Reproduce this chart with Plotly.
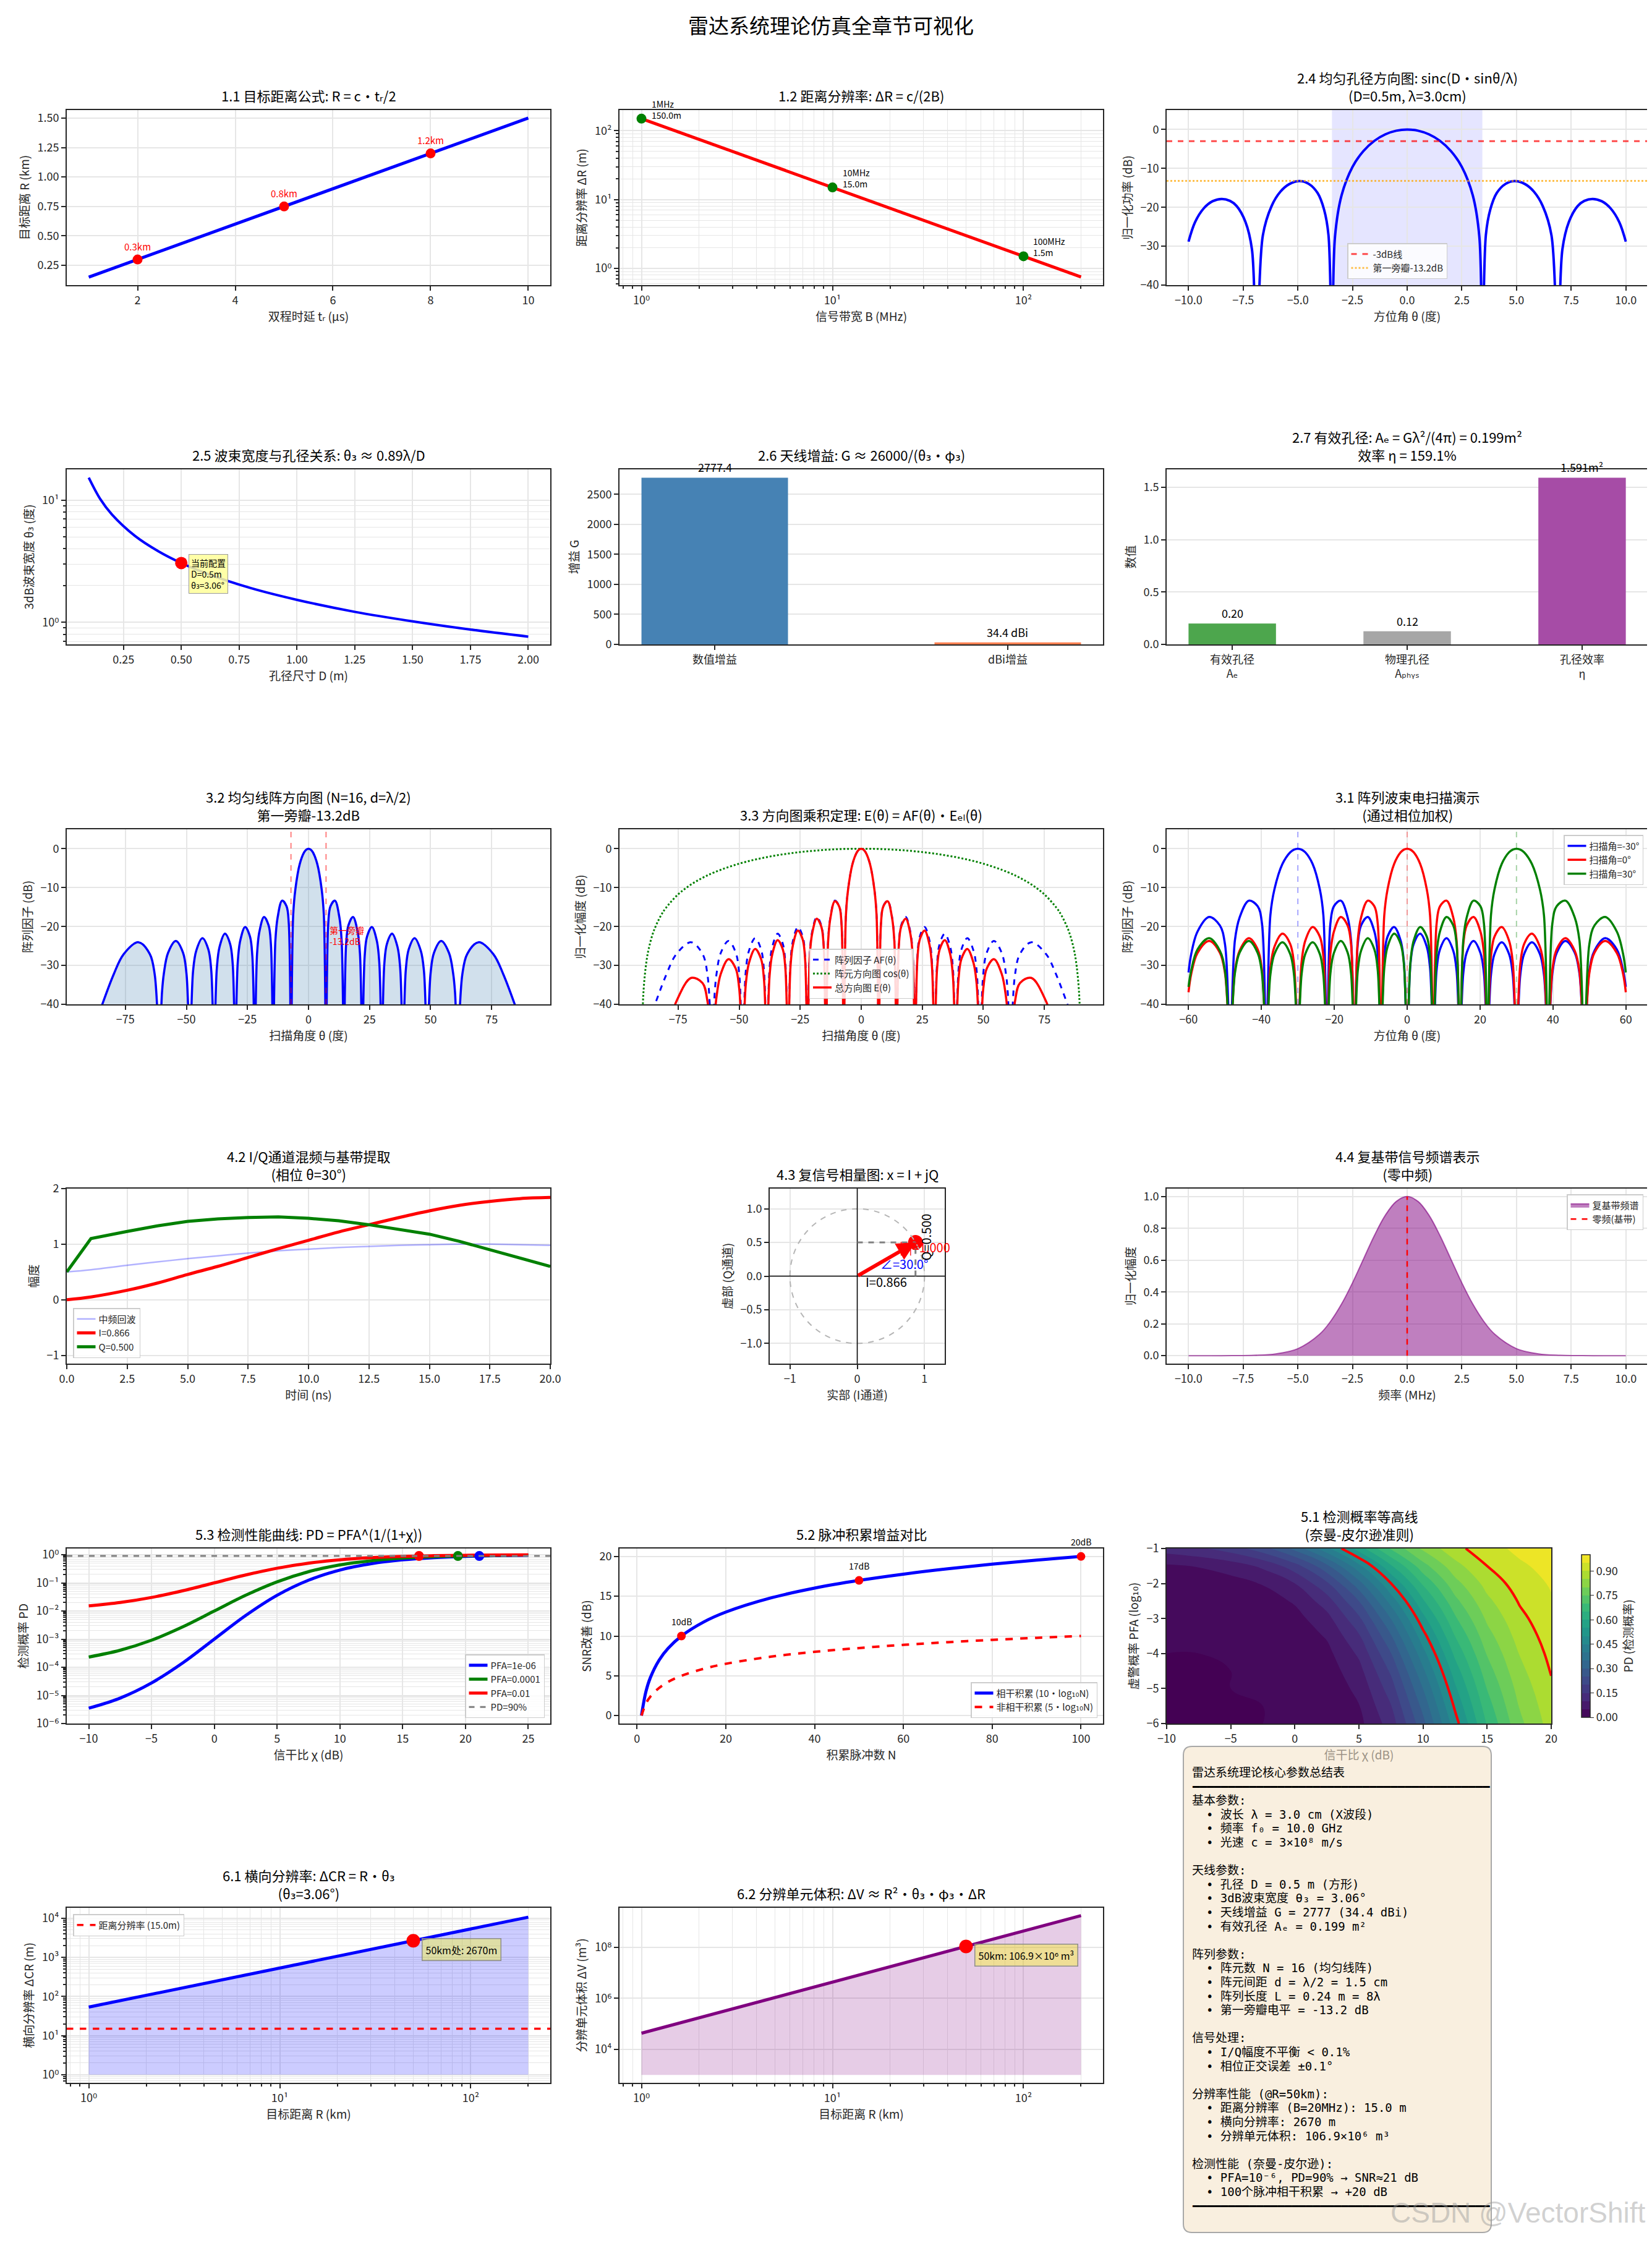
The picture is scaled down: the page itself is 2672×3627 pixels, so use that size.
import math
import plotly.graph_objects as go

W, H = 2672, 3627
CJK = "Noto Sans CJK SC, DejaVu Sans, sans-serif"
MONO = "DejaVu Sans Mono, Noto Sans CJK SC, monospace"
INK = "#262626"
GRID = "#e6e6e6"

# ---------------- 数据 ----------------
# 1.1 目标距离
delay_us = [1, 10]
target_range_km = [0.15, 1.5]
mark_delay_us = [2, 5, 8]
mark_range_km = [0.3, 0.75, 1.2]
mark_range_txt = ["0.3km", "0.8km", "1.2km"]

# 1.2 距离分辨率
bandwidth_mhz = [1, 200]
range_res_m = [150.0, 0.75]
mark_bw_mhz = [1, 10, 100]
mark_res_m = [150.0, 15.0, 1.5]
mark_res_txt = ["1MHz<br>150.0m", "10MHz<br>15.0m", "100MHz<br>1.5m"]

# 2.4 均匀孔径方向图 (正半轴, 左右对称)
sinc_theta_half = [0, 0.5, 1.0, 1.5, 2.0, 2.5, 3.0, 3.3, 3.44, 3.6, 3.8, 4.1, 4.5, 4.92,
                   5.4, 5.8, 6.2, 6.6, 6.89, 7.1, 7.4, 7.8, 8.1, 8.48, 8.9, 9.3, 9.7, 10.0]
sinc_db_half = [0, -0.31, -1.24, -2.91, -5.53, -9.60, -16.91, -27.5, -60, -27.1, -20.6, -16.3,
                -13.98, -13.26, -14.06, -16.0, -19.66, -27.2, -60, -30.8, -23.7, -19.66, -18.36,
                -17.84, -18.44, -20.25, -23.8, -28.84]
mainlobe_edge_deg = 3.44
ref_levels_db = [-3.0, -13.2]

# 2.5 波束宽度
aperture_m = [0.1, 0.15, 0.2, 0.3, 0.4, 0.5, 0.6, 0.8, 1.0, 1.25, 1.5, 1.75, 2.0]
beamwidth_deg = [15.30, 10.20, 7.65, 5.10, 3.83, 3.06, 2.55, 1.91, 1.53, 1.22, 1.02, 0.874, 0.765]
cur_aperture_m = 0.5
cur_beam_deg = 3.06

# 2.6 天线增益
gain_cats = ["数值增益", "dBi增益"]
gain_vals = [2777.4, 34.4]
gain_txt = ["2777.4", "34.4 dBi"]

# 2.7 有效孔径
aper_cats = ["有效孔径<br>Aₑ", "物理孔径<br>Aₚₕᵧₛ", "孔径效率<br>η"]
aper_vals = [0.199, 0.125, 1.591]
aper_txt = ["0.20", "0.12", "1.591m²"]

# 3.x 阵列方向图 (正半轴)
theta_half = [0, 0.90, 1.79, 3.58, 5.38, 6.28,
              7.18, 8.08, 8.99, 10.81, 12.64, 13.56,
              14.48, 15.40, 16.34, 18.21, 20.11, 21.07,
              22.02, 23.00, 23.97, 25.95, 27.96, 28.98,
              30.00, 31.05, 32.10, 34.23, 36.42, 37.54,
              38.68, 39.84, 41.02, 43.44, 45.97, 47.27,
              48.59, 49.99, 51.41, 54.34, 57.54, 59.24, 60.00,
              61.04, 62.97, 65.00, 69.64, 75.64, 79.86, 90.00]
af_half = [0, -0.22, -0.91, -3.91, -10.42, -17.1,
           -50, -19.24, -14.80, -13.34, -17.64, -23.55,
           -50, -24.58, -19.71, -17.55, -21.31, -26.99,
           -50, -27.63, -22.59, -20.13, -23.64, -29.19,
           -50, -29.62, -24.48, -21.85, -25.19, -30.67,
           -50, -31.2, -25.9, -22.99, -26.2, -31.4,
           -50, -32.0, -26.7, -23.70, -26.8, -32.1, -36.9,
           -50, -32.4, -27.05, -24.04, -27.05, -32.4, -50]
total_half = [0, -0.22, -0.91, -3.93, -10.46, -17.15,
              -50, -19.33, -14.91, -13.50, -17.85, -23.79,
              -50, -24.89, -20.06, -17.99, -21.84, -27.57,
              -50, -28.33, -23.35, -21.05, -24.72, -30.35,
              -50, -30.96, -25.92, -23.50, -27.08, -32.69,
              -50, -33.5, -28.35, -25.77, -29.36, -34.77,
              -50, -35.84, -30.80, -28.39, -32.21, -37.93, -42.9,
              -50, -39.25, -34.53, -33.21, -39.16, -47.5, -60]
elem_theta_half = [0, 10, 20, 30, 40, 50, 60, 65, 70, 75, 80, 82, 85, 87, 88, 89, 89.5, 90]
elem_db_half = [0, -0.13, -0.54, -1.25, -2.32, -3.84, -6.02, -7.48, -9.32, -11.74, -15.21,
                -17.13, -21.19, -25.62, -29.14, -35.16, -41.18, -60]
# 扫描角 -30° 的方向图, θ 从 -60° 到 60°
scan_m30_db = [-31.8, -26.99, -21.31, -17.55, -19.71, -24.58,
               -50, -23.55, -17.64, -13.34, -14.80, -19.24,
               -50, -17.1, -10.42, -3.91, -0.91, -0.22,
               0, -0.22, -0.91, -3.91, -10.42, -17.1,
               -50, -19.24, -14.80, -13.34, -17.64, -23.55,
               -50, -24.58, -19.71, -17.55, -21.31, -26.99,
               -50, -27.63, -22.59, -20.13, -23.64, -29.19,
               -50, -29.62, -24.48, -21.85, -25.19, -30.67,
               -50, -31.2, -25.9, -22.99, -26.2, -31.4,
               -50, -32.0, -26.7, -23.70, -26.8, -32.1,
               -50, -32.4, -27.05, -24.04, -27.05, -32.4,
               -50, -32.4, -27.05, -24.04, -27.05, -32.4,
               -50, -32.1, -26.8, -23.70, -26.7, -32.0,
               -50, -31.4, -26.2, -22.99, -25.9, -31.2,
               -35.5]
first_null_deg = 7.18
floor_db = -40
scan_limit_deg = 60
scan_angles = [-30, 0, 30]

# 4.2 I/Q 混频
t_ns = [0, 1, 2.5, 3.75, 5, 6.25, 7.5, 8.75, 10, 11.25, 12.5, 13.75, 15, 16.25, 17.5, 18.75, 20]
if_echo = [0.50, 0.54, 0.62, 0.68, 0.74, 0.79, 0.84, 0.88, 0.91, 0.94, 0.96, 0.98, 0.99, 1.00, 1.00, 0.99, 0.98]
i_chan = [0.00, 0.05, 0.17, 0.30, 0.455, 0.60, 0.76, 0.92, 1.07, 1.22, 1.35, 1.48, 1.60, 1.70, 1.77, 1.82, 1.84]
q_chan = [0.50, 1.10, 1.23, 1.33, 1.41, 1.455, 1.48, 1.49, 1.465, 1.42, 1.35, 1.27, 1.18, 1.05, 0.90, 0.75, 0.60]

# 4.3 相量
i_val = 0.866
q_val = 0.5
unit_radius = 1.0

# 4.4 复基带频谱 (正半轴)
freq_half = [0, 0.5, 1, 1.5, 2, 2.5, 3, 3.5, 4, 5, 6, 7, 8, 9, 10]
spec_half = [1.0, 0.969, 0.8825, 0.7548, 0.6065, 0.4578, 0.3247, 0.2163, 0.1353, 0.0439,
             0.0111, 0.0022, 0.0003, 0.0, 0.0]
spec_peak = 1.0

# 5.3 检测性能
snr_db = [-10, -7.5, -5, -2.5, 0, 2.5, 5, 7.5, 10, 12.5, 15, 17.5, 20, 22.5, 25]
pd_pfa_1e6 = [3.51e-6, 8.04e-6, 2.77e-5, 1.44e-4, 1.0e-3, 6.92e-3, 0.0361, 0.124, 0.285, 0.479,
              0.655, 0.786, 0.872, 0.926, 0.957]
pd_pfa_1e4 = [2.31e-4, 4.02e-4, 9.14e-4, 2.75e-3, 0.010, 0.0363, 0.109, 0.249, 0.433, 0.612,
              0.754, 0.851, 0.913, 0.950, 0.971]
pd_pfa_1e2 = [0.0152, 0.0200, 0.0303, 0.0525, 0.100, 0.191, 0.331, 0.499, 0.658, 0.782,
              0.868, 0.923, 0.955, 0.975, 0.986]
pd_target = 0.9
snr_at_target = [21.1, 19.4, 16.3]

# 5.2 脉冲积累
pulses_n = [1, 2, 3, 5, 7, 10, 15, 20, 30, 40, 50, 60, 70, 80, 90, 100]
coh_gain_db = [0, 3.01, 4.77, 6.99, 8.45, 10.0, 11.76, 13.01, 14.77, 16.02, 16.99, 17.78, 18.45,
               19.03, 19.54, 20.0]
noncoh_gain_db = [0, 1.51, 2.39, 3.49, 4.23, 5.0, 5.88, 6.51, 7.39, 8.01, 8.49, 8.89, 9.23, 9.52,
                  9.77, 10.0]
mark_n = [10, 50, 100]
mark_gain_db = [10.0, 16.99, 20.0]
mark_gain_txt = ["10dB", "17dB", "20dB"]

# 5.1 检测概率等高线
cont_snr_db = [-10, -7.5, -5, -2.5, 0, 2.5, 5, 7.5, 10, 12.5, 15, 17.5, 20]
cont_log_pfa = [-6, -5.5, -5, -4.5, -4, -3.5, -3, -2.5, -2, -1.5, -1]
cont_pd = [
    [0.000, 0.000, 0.000, 0.000, 0.001, 0.007, 0.036, 0.124, 0.285, 0.479, 0.655, 0.786, 0.872],
    [0.000, 0.000, 0.000, 0.000, 0.002, 0.011, 0.048, 0.148, 0.316, 0.509, 0.678, 0.802, 0.882],
    [0.000, 0.000, 0.000, 0.001, 0.003, 0.016, 0.063, 0.176, 0.351, 0.541, 0.702, 0.818, 0.892],
    [0.000, 0.000, 0.000, 0.001, 0.006, 0.024, 0.083, 0.209, 0.390, 0.575, 0.728, 0.835, 0.903],
    [0.000, 0.000, 0.001, 0.003, 0.010, 0.036, 0.109, 0.249, 0.433, 0.612, 0.754, 0.851, 0.913],
    [0.001, 0.001, 0.002, 0.006, 0.018, 0.055, 0.144, 0.296, 0.481, 0.651, 0.781, 0.869, 0.923],
    [0.002, 0.003, 0.005, 0.012, 0.032, 0.083, 0.190, 0.352, 0.534, 0.692, 0.809, 0.886, 0.934],
    [0.005, 0.008, 0.013, 0.025, 0.056, 0.126, 0.251, 0.420, 0.593, 0.736, 0.838, 0.904, 0.945],
    [0.015, 0.020, 0.030, 0.053, 0.100, 0.191, 0.331, 0.499, 0.658, 0.782, 0.868, 0.923, 0.955],
    [0.043, 0.053, 0.073, 0.110, 0.178, 0.288, 0.436, 0.594, 0.731, 0.832, 0.900, 0.942, 0.966],
    [0.123, 0.142, 0.174, 0.229, 0.316, 0.437, 0.575, 0.706, 0.811, 0.884, 0.932, 0.961, 0.978],
]
pd_lines = [0.5, 0.9]

# 6.x 分辨率
dist_km = [1, 200]
cross_res_m = [53.4, 10680]
cross_floor_m = 1
range_res_15m = 15.0
dist_mark_km = 50
cross_mark_m = 2670
cell_vol_m3 = [4.28e4, 1.711e9]
vol_floor_m3 = 1e3
vol_mark_m3 = 1.069e8

# ---------------- 绘图 ----------------
SUP = str.maketrans("0123456789-", "⁰¹²³⁴⁵⁶⁷⁸⁹⁻")


def pow10(e):
    return "10" + str(e).translate(SUP)


def mirror(xs, ys):
    return [-v for v in xs[::-1]] + xs[1:], ys[::-1] + ys[1:]


COLS = [(100, 882), (994, 1776), (1879, 2657)]
ROWS = [170, 751, 1333, 1914, 2496, 3077]
PH = 283
MINOR = dict(dtick="D1", showgrid=True, gridcolor=GRID, gridwidth=1.2,
             ticks="outside", ticklen=4, tickcolor=INK)

fig = go.Figure()
axes = {}
notes = []
shapes = []


def sid(n):
    return "" if n == 1 else str(n)


def xy(n):
    s = sid(n)
    return dict(xaxis="x" + s, yaxis="y" + s)


def panel(n, x0, x1, top, title, xt=None, yt=None, xkw=None, ykw=None):
    s = sid(n)
    base = dict(showline=True, mirror=True, linecolor=INK, linewidth=2,
                ticks="outside", ticklen=7, tickwidth=1.5, tickcolor=INK,
                showgrid=True, gridcolor=GRID, gridwidth=1.5, zeroline=False,
                automargin=False, tickfont=dict(family=CJK, size=18, color=INK))
    xd = dict(base, domain=[x0 / W, x1 / W], anchor="y" + s)
    yd = dict(base, domain=[1 - (top + PH) / H, 1 - top / H], anchor="x" + s)
    if xt:
        xd["title"] = dict(text=xt, font=dict(family=CJK, size=19, color=INK), standoff=10)
    if yt:
        yd["title"] = dict(text=yt, font=dict(family=CJK, size=19, color=INK), standoff=8)
    xd.update(xkw or {})
    yd.update(ykw or {})
    axes["xaxis" + s] = xd
    axes["yaxis" + s] = yd
    notes.append(dict(text=title, x=(x0 + x1) / 2 / W, y=1 - top / H, xref="paper", yref="paper",
                      xanchor="center", yanchor="bottom", yshift=6, showarrow=False,
                      font=dict(family=CJK, size=22, color="black")))


def logticks(exps):
    return dict(tickvals=[10 ** e for e in exps], ticktext=[pow10(e) for e in exps])


def note(n, x, y, text, **kw):
    s = sid(n)
    d = dict(x=x, y=y, xref="x" + s, yref="y" + s, text=text, showarrow=False,
             font=dict(family=CJK, size=kw.pop("size", 16), color=kw.pop("color", "black")))
    d.update(kw)
    notes.append(d)


# 1.1
panel(1, *COLS[0], ROWS[0], "1.1 目标距离公式: R = c·tᵣ/2", "双程时延 tᵣ (μs)", "目标距离 R (km)",
      xkw=dict(range=[0.55, 10.45], tick0=2, dtick=2),
      ykw=dict(range=[0.0825, 1.5675], tick0=0.25, dtick=0.25, tickformat=".2f"))
fig.add_trace(go.Scatter(x=delay_us, y=target_range_km, mode="lines",
                         line=dict(color="blue", width=5), showlegend=False, **xy(1)))
fig.add_trace(go.Scatter(x=mark_delay_us, y=mark_range_km, mode="markers+text", text=mark_range_txt,
                         textposition="top center", textfont=dict(family=CJK, size=15, color="red"),
                         marker=dict(color="red", size=16), showlegend=False, **xy(1)))

# 1.2
panel(2, *COLS[1], ROWS[0], "1.2 距离分辨率: ΔR = c/(2B)", "信号带宽 B (MHz)", "距离分辨率 ΔR (m)",
      xkw=dict(type="log", range=[-0.115, 2.416], minor=MINOR, **logticks([0, 1, 2])),
      ykw=dict(type="log", range=[-0.242, 2.30], minor=MINOR, **logticks([0, 1, 2])))
fig.add_trace(go.Scatter(x=bandwidth_mhz, y=range_res_m, mode="lines",
                         line=dict(color="red", width=5), showlegend=False, **xy(2)))
fig.add_trace(go.Scatter(x=mark_bw_mhz, y=mark_res_m, mode="markers",
                         marker=dict(color="green", size=16), showlegend=False, **xy(2)))
for b, r, t in zip(mark_bw_mhz, mark_res_m, mark_res_txt):
    note(2, math.log10(b), math.log10(r), t, size=14, xanchor="left", yanchor="bottom",
         xshift=14, yshift=-6, align="left")

# 2.4
panel(3, *COLS[2], ROWS[0], "2.4 均匀孔径方向图: sinc(D·sinθ/λ)<br>(D=0.5m, λ=3.0cm)",
      "方位角 θ (度)", "归一化功率 (dB)",
      xkw=dict(range=[-11, 11], tick0=-10, dtick=2.5, tickformat=".1f"),
      ykw=dict(range=[-40, 5], tick0=0, dtick=10))
shapes.append(dict(type="rect", xref="x3", yref="y3 domain", x0=-mainlobe_edge_deg, x1=mainlobe_edge_deg,
                   y0=0, y1=1, fillcolor="rgba(0,0,255,0.1)", line=dict(width=0), layer="below"))
sx, sy = mirror(sinc_theta_half, sinc_db_half)
fig.add_trace(go.Scatter(x=sx, y=sy, mode="lines", line=dict(color="blue", width=4, shape="spline"),
                         showlegend=False, **xy(3)))
ref_specs = list(zip(ref_levels_db, ["-3dB线", "第一旁瓣-13.2dB"],
                     ["rgba(255,0,0,0.7)", "rgba(255,165,0,0.7)"], ["dash", "dot"]))
# 图例中形状条目按添加顺序倒序显示, 所以倒序添加
for lvl, name, col, dash in reversed(ref_specs):
    shapes.append(dict(type="line", xref="x3 domain", yref="y3", x0=0, x1=1, y0=lvl, y1=lvl,
                       line=dict(color=col, width=3, dash=dash), showlegend=True, name=name,
                       legend="legend"))

# 2.5
panel(4, *COLS[0], ROWS[1], "2.5 波束宽度与孔径关系: θ₃ ≈ 0.89λ/D", "孔径尺寸 D (m)", "3dB波束宽度 θ₃ (度)",
      xkw=dict(range=[0.005, 2.095], tick0=0.25, dtick=0.25, tickformat=".2f"),
      ykw=dict(type="log", range=[-0.18, 1.252], minor=MINOR, **logticks([0, 1])))
fig.add_trace(go.Scatter(x=aperture_m, y=beamwidth_deg, mode="lines",
                         line=dict(color="blue", width=4, shape="spline"), showlegend=False, **xy(4)))
fig.add_trace(go.Scatter(x=[cur_aperture_m], y=[cur_beam_deg], mode="markers",
                         marker=dict(color="red", size=20), showlegend=False, **xy(4)))
note(4, cur_aperture_m, math.log10(cur_beam_deg),
     f"当前配置<br>D={cur_aperture_m}m<br>θ₃={cur_beam_deg:.2f}°", size=14, align="left",
     xanchor="left", yanchor="top", xshift=12, yshift=14,
     bgcolor="rgba(255,255,153,0.85)", bordercolor="#999999", borderwidth=1, borderpad=3)

# 2.6
panel(5, *COLS[1], ROWS[1], "2.6 天线增益: G ≈ 26000/(θ₃·φ₃)", None, "增益 G",
      xkw=dict(type="category", range=[-0.325, 1.325], showgrid=False),
      ykw=dict(range=[0, 2916], dtick=500))
fig.add_trace(go.Bar(x=gain_cats, y=gain_vals, width=0.5,
                     marker=dict(color=["#4682B4", "#FF7F50"], line=dict(width=0)),
                     showlegend=False, **xy(5)))
for c, v, t in zip(gain_cats, gain_vals, gain_txt):
    note(5, c, v, t, size=18, yanchor="bottom", yshift=2)

# 2.7
panel(6, *COLS[2], ROWS[1], "2.7 有效孔径: Aₑ = Gλ²/(4π) = 0.199m²<br>效率 η = 159.1%", None, "数值",
      xkw=dict(type="category", range=[-0.375, 2.375], showgrid=False),
      ykw=dict(range=[0, 1.6706], dtick=0.5, tickformat=".1f"))
fig.add_trace(go.Bar(x=aper_cats, y=aper_vals, width=0.5,
                     marker=dict(color=["#4DA64D", "#A6A6A6", "#A64CA6"], line=dict(width=0)),
                     showlegend=False, **xy(6)))
for c, v, t in zip(aper_cats, aper_vals, aper_txt):
    note(6, c, v, t, size=18, yanchor="bottom", yshift=2)

# 3.2
th_full, af_full = mirror(theta_half, af_half)
_, total_full = mirror(theta_half, total_half)
ex, ey = mirror(elem_theta_half, elem_db_half)
panel(7, *COLS[0], ROWS[2], "3.2 均匀线阵方向图 (N=16, d=λ/2)<br>第一旁瓣-13.2dB", "扫描角度 θ (度)", "阵列因子 (dB)",
      xkw=dict(range=[-99, 99], tick0=-75, dtick=25), ykw=dict(range=[-40, 5], dtick=10))
fig.add_trace(go.Scatter(x=[th_full[0], th_full[-1]], y=[floor_db, floor_db], mode="lines",
                         line=dict(width=0), showlegend=False, **xy(7)))
fig.add_trace(go.Scatter(x=th_full, y=af_full, mode="lines", fill="tonexty",
                         fillcolor="rgba(70,130,180,0.25)", line=dict(color="blue", width=3.5, shape="spline"),
                         showlegend=False, **xy(7)))
for s in (-first_null_deg, first_null_deg):
    shapes.append(dict(type="line", xref="x7", yref="y7 domain", x0=s, x1=s, y0=0, y1=1,
                       line=dict(color="rgba(255,0,0,0.5)", width=2, dash="dash")))
note(7, 8, -19, "第一旁瓣<br>-13.2dB", size=14, color="red", xanchor="left", yanchor="top", align="left")

# 3.3
panel(8, *COLS[1], ROWS[2], "3.3 方向图乘积定理: E(θ) = AF(θ)·Eₑₗ(θ)", "扫描角度 θ (度)", "归一化幅度 (dB)",
      xkw=dict(range=[-99, 99], tick0=-75, dtick=25), ykw=dict(range=[-40, 5], dtick=10))
fig.add_trace(go.Scatter(x=th_full, y=af_full, mode="lines", name="阵列因子 AF(θ)",
                         line=dict(color="blue", width=3, dash="dash", shape="spline"), legend="legend2", **xy(8)))
fig.add_trace(go.Scatter(x=ex, y=ey, mode="lines", name="阵元方向图 cos(θ)",
                         line=dict(color="green", width=3, dash="dot", shape="spline"), legend="legend2", **xy(8)))
fig.add_trace(go.Scatter(x=th_full, y=total_full, mode="lines", name="总方向图 E(θ)",
                         line=dict(color="red", width=3.5, shape="spline"), legend="legend2", **xy(8)))

# 3.1
th_scan = [t for t in th_full if abs(t) <= scan_limit_deg]
red_scan = [a for t, a in zip(th_full, af_full) if abs(t) <= scan_limit_deg]
green_scan = scan_m30_db[::-1]
panel(9, *COLS[2], ROWS[2], "3.1 阵列波束电扫描演示<br>(通过相位加权)", "方位角 θ (度)", "阵列因子 (dB)",
      xkw=dict(range=[-66, 66], tick0=-60, dtick=20), ykw=dict(range=[-40, 5], dtick=10))
for ang, ys, col in zip(scan_angles, [scan_m30_db, red_scan, green_scan], ["blue", "red", "green"]):
    fig.add_trace(go.Scatter(x=th_scan, y=ys, mode="lines", name=f"扫描角={ang}°",
                             line=dict(color=col, width=3.5, shape="spline"), legend="legend3", **xy(9)))
    rgb = {"blue": "0,0,255", "red": "255,0,0", "green": "0,128,0"}[col]
    shapes.append(dict(type="line", xref="x9", yref="y9 domain", x0=ang, x1=ang, y0=0, y1=1,
                       line=dict(color=f"rgba({rgb},0.35)", width=2, dash="dash")))

# 4.2
panel(10, *COLS[0], ROWS[3], "4.2 I/Q通道混频与基带提取<br>(相位 θ=30°)", "时间 (ns)", "幅度",
      xkw=dict(range=[0, 20], tick0=0, dtick=2.5, tickformat=".1f"), ykw=dict(range=[-1.15, 2.0], dtick=1))
fig.add_trace(go.Scatter(x=t_ns, y=if_echo, mode="lines", name="中频回波",
                         line=dict(color="rgba(0,0,255,0.3)", width=2.5, shape="spline"), legend="legend4", **xy(10)))
fig.add_trace(go.Scatter(x=t_ns, y=i_chan, mode="lines", name=f"I={i_val:.3f}",
                         line=dict(color="red", width=5, shape="spline"), legend="legend4", **xy(10)))
fig.add_trace(go.Scatter(x=t_ns, y=q_chan, mode="lines", name=f"Q={q_val:.3f}",
                         line=dict(color="green", width=5), legend="legend4", **xy(10)))

# 4.3
panel(11, 1237, 1520, ROWS[3], "4.3 复信号相量图: x = I + jQ", "实部 (I通道)", "虚部 (Q通道)",
      xkw=dict(range=[-1.3, 1.3], dtick=1), ykw=dict(range=[-1.3, 1.3], dtick=0.5, tickformat=".1f"))
shapes.append(dict(type="circle", xref="x11", yref="y11", x0=-unit_radius, y0=-unit_radius,
                   x1=unit_radius, y1=unit_radius, line=dict(color="#b5b5b5", width=2, dash="dash")))
shapes.append(dict(type="line", xref="x11 domain", yref="y11", x0=0, x1=1, y0=0, y1=0,
                   line=dict(color="black", width=1.5)))
shapes.append(dict(type="line", xref="x11", yref="y11 domain", x0=0, x1=0, y0=0, y1=1,
                   line=dict(color="black", width=1.5)))
shapes.append(dict(type="line", xref="x11", yref="y11", x0=0, x1=i_val, y0=q_val, y1=q_val,
                   line=dict(color="gray", width=3, dash="dash")))
shapes.append(dict(type="line", xref="x11", yref="y11", x0=i_val, x1=i_val, y0=0, y1=q_val,
                   line=dict(color="gray", width=3, dash="dash")))
notes.append(dict(x=i_val, y=q_val, ax=0, ay=0, xref="x11", yref="y11", axref="x11", ayref="y11",
                  text="", showarrow=True, arrowhead=2, arrowsize=1, arrowwidth=6, arrowcolor="red"))
fig.add_trace(go.Scatter(x=[i_val], y=[q_val], mode="markers", marker=dict(color="red", size=24),
                         showlegend=False, **xy(11)))
note(11, i_val / 2, -0.08, f"I={i_val:.3f}", size=20)
note(11, i_val + 0.15, q_val + 0.08, f"Q={q_val:.3f}", size=20, textangle=-90)
note(11, i_val + 0.14, q_val - 0.07, "|x|=1.000", size=20, color="red")
note(11, 0.70, 0.18, "∠=30.0°", size=20, color="blue")

# 4.4
fx, fy = mirror(freq_half, spec_half)
panel(12, *COLS[2], ROWS[3], "4.4 复基带信号频谱表示<br>(零中频)", "频率 (MHz)", "归一化幅度",
      xkw=dict(range=[-11, 11], tick0=-10, dtick=2.5, tickformat=".1f"),
      ykw=dict(range=[-0.05, 1.05], dtick=0.2, tickformat=".1f"))
fig.add_trace(go.Scatter(x=fx, y=fy, mode="lines", fill="tozeroy", fillcolor="rgba(128,0,128,0.5)",
                         name="复基带频谱", line=dict(color="rgba(128,0,128,0.6)", width=2, shape="spline"),
                         legend="legend5", **xy(12)))
shapes.append(dict(type="line", xref="x12", yref="y12", x0=0, x1=0, y0=0, y1=spec_peak,
                   line=dict(color="red", width=2.5, dash="dash"), showlegend=True, name="零频(基带)",
                   legend="legend5"))

# 5.3
panel(13, *COLS[0], ROWS[4], "5.3 检测性能曲线: PD = PFA^(1/(1+χ))", "信干比 χ (dB)", "检测概率 PD",
      xkw=dict(range=[-11.75, 26.75], tick0=-10, dtick=5),
      ykw=dict(type="log", range=[-6.0, 0.22], minor=MINOR, **logticks([0, -1, -2, -3, -4, -5, -6])))
for ys, col, nm in zip([pd_pfa_1e6, pd_pfa_1e4, pd_pfa_1e2], ["blue", "green", "red"],
                       ["PFA=1e-06", "PFA=0.0001", "PFA=0.01"]):
    fig.add_trace(go.Scatter(x=snr_db, y=ys, mode="lines", name=nm, line=dict(color=col, width=5, shape="spline"),
                             legend="legend6", **xy(13)))
shapes.append(dict(type="line", xref="x13 domain", yref="y13", x0=0, x1=1, y0=pd_target, y1=pd_target,
                   line=dict(color="gray", width=3, dash="dash"), showlegend=True, name="PD=90%",
                   legend="legend6"))
fig.add_trace(go.Scatter(x=snr_at_target, y=[pd_target] * len(snr_at_target), mode="markers",
                         marker=dict(color=["blue", "green", "red"], size=16), showlegend=False, **xy(13)))

# 5.2
panel(14, *COLS[1], ROWS[4], "5.2 脉冲积累增益对比", "积累脉冲数 N", "SNR改善 (dB)",
      xkw=dict(range=[-3.95, 104.95], tick0=0, dtick=20), ykw=dict(range=[-1, 21], dtick=5))
fig.add_trace(go.Scatter(x=pulses_n, y=coh_gain_db, mode="lines", name="相干积累 (10·log₁₀N)",
                         line=dict(color="blue", width=5, shape="spline"), legend="legend7", **xy(14)))
fig.add_trace(go.Scatter(x=pulses_n, y=noncoh_gain_db, mode="lines", name="非相干积累 (5·log₁₀N)",
                         line=dict(color="red", width=4, dash="dash", shape="spline"), legend="legend7", **xy(14)))
fig.add_trace(go.Scatter(x=mark_n, y=mark_gain_db, mode="markers", marker=dict(color="red", size=14),
                         showlegend=False, **xy(14)))
for n_, g, t in zip(mark_n, mark_gain_db, mark_gain_txt):
    note(14, n_, g, t, size=14, yanchor="bottom", yshift=12)

# 5.1
panel(15, 1879, 2501, ROWS[4], "5.1 检测概率等高线<br>(奈曼-皮尔逊准则)", None, "虚警概率 PFA (log₁₀)",
      xkw=dict(range=[-10, 20], tick0=-10, dtick=5, showgrid=False,
               title=dict(text="信干比 χ (dB)", font=dict(family=CJK, size=19, color="#9b9285"), standoff=10)),
      ykw=dict(range=[-6, -1], dtick=1, showgrid=False))
fig.add_trace(go.Contour(x=cont_snr_db, y=cont_log_pfa, z=cont_pd, colorscale="Viridis", zmin=0, zmax=1,
                         contours=dict(start=0, end=1, size=0.05, coloring="fill", showlines=False),
                         line=dict(width=0, smoothing=1.3),
                         colorbar=dict(x=2540 / W, xanchor="left", y=1 - (ROWS[4] + PH / 2) / H, yanchor="middle",
                                       len=PH / H, lenmode="fraction", thickness=14, outlinecolor=INK, outlinewidth=1.5,
                                       tickvals=[0, 0.15, 0.30, 0.45, 0.60, 0.75, 0.90],
                                       ticktext=["0.00", "0.15", "0.30", "0.45", "0.60", "0.75", "0.90"],
                                       ticks="outside", ticklen=6, tickcolor=INK,
                                       tickfont=dict(family=CJK, size=18, color=INK),
                                       title=dict(text="PD (检测概率)", side="right",
                                                  font=dict(family=CJK, size=19, color=INK))),
                         showlegend=False, **xy(15)))
fig.add_trace(go.Contour(x=cont_snr_db, y=cont_log_pfa, z=cont_pd, showscale=False,
                         contours=dict(start=pd_lines[0], end=pd_lines[1], size=pd_lines[1] - pd_lines[0],
                                       coloring="none", showlines=True),
                         line=dict(color="red", width=4, smoothing=1.3), showlegend=False, **xy(15)))

# 6.1
panel(16, *COLS[0], ROWS[5], "6.1 横向分辨率: ΔCR = R·θ₃<br>(θ₃=3.06°)", "目标距离 R (km)", "横向分辨率 ΔCR (m)",
      xkw=dict(type="log", range=[-0.115, 2.416], minor=MINOR, **logticks([0, 1, 2])),
      ykw=dict(type="log", range=[-0.21, 4.268], minor=MINOR, **logticks([0, 1, 2, 3, 4])))
fig.add_trace(go.Scatter(x=dist_km, y=[cross_floor_m] * len(dist_km), mode="lines", line=dict(width=0),
                         showlegend=False, **xy(16)))
fig.add_trace(go.Scatter(x=dist_km, y=cross_res_m, mode="lines", fill="tonexty", fillcolor="rgba(0,0,255,0.2)",
                         line=dict(color="blue", width=5), showlegend=False, **xy(16)))
shapes.append(dict(type="line", xref="x16 domain", yref="y16", x0=0, x1=1, y0=range_res_15m, y1=range_res_15m,
                   line=dict(color="red", width=3.5, dash="dash"), showlegend=True,
                   name=f"距离分辨率 ({range_res_15m:.1f}m)", legend="legend8"))
fig.add_trace(go.Scatter(x=[dist_mark_km], y=[cross_mark_m], mode="markers", marker=dict(color="red", size=22),
                         showlegend=False, **xy(16)))
note(16, math.log10(dist_mark_km), math.log10(cross_mark_m), f"{dist_mark_km}km处: {cross_mark_m}m",
     size=16, xanchor="left", yanchor="top", xshift=14, yshift=4,
     bgcolor="rgba(255,255,0,0.35)", bordercolor="#8c8c8c", borderwidth=1.5, borderpad=5)

# 6.2
panel(17, *COLS[1], ROWS[5], "6.2 分辨单元体积: ΔV ≈ R²·θ₃·φ₃·ΔR", "目标距离 R (km)", "分辨单元体积 ΔV (m³)",
      xkw=dict(type="log", range=[-0.115, 2.416], minor=MINOR, **logticks([0, 1, 2])),
      ykw=dict(type="log", range=[2.69, 9.54], **logticks([4, 6, 8])))
fig.add_trace(go.Scatter(x=dist_km, y=[vol_floor_m3] * len(dist_km), mode="lines", line=dict(width=0),
                         showlegend=False, **xy(17)))
fig.add_trace(go.Scatter(x=dist_km, y=cell_vol_m3, mode="lines", fill="tonexty", fillcolor="rgba(128,0,128,0.2)",
                         line=dict(color="purple", width=5), showlegend=False, **xy(17)))
fig.add_trace(go.Scatter(x=[dist_mark_km], y=[vol_mark_m3], mode="markers", marker=dict(color="red", size=22),
                         showlegend=False, **xy(17)))
note(17, math.log10(dist_mark_km), math.log10(vol_mark_m3), f"{dist_mark_km}km: {vol_mark_m3 / 1e6:.1f}×10⁶ m³",
     size=16, xanchor="left", yanchor="top", xshift=14, yshift=4,
     bgcolor="rgba(255,255,0,0.35)", bordercolor="#8c8c8c", borderwidth=1.5, borderpad=5)

# 参数汇总文本框
box_lines = [
    "雷达系统理论核心参数总结表",
    "━" * 42,
    "基本参数:",
    "  • 波长 λ = 3.0 cm (X波段)",
    "  • 频率 f₀ = 10.0 GHz",
    "  • 光速 c = 3×10⁸ m/s",
    "",
    "天线参数:",
    "  • 孔径 D = 0.5 m (方形)",
    "  • 3dB波束宽度 θ₃ = 3.06°",
    "  • 天线增益 G = 2777 (34.4 dBi)",
    "  • 有效孔径 Aₑ = 0.199 m²",
    "",
    "阵列参数:",
    "  • 阵元数 N = 16 (均匀线阵)",
    "  • 阵元间距 d = λ/2 = 1.5 cm",
    "  • 阵列长度 L = 0.24 m = 8λ",
    "  • 第一旁瓣电平 = -13.2 dB",
    "",
    "信号处理:",
    "  • I/Q幅度不平衡 &lt; 0.1%",
    "  • 相位正交误差 ±0.1°",
    "",
    "分辨率性能 (@R=50km):",
    "  • 距离分辨率 (B=20MHz): 15.0 m",
    "  • 横向分辨率: 2670 m",
    "  • 分辨单元体积: 106.9×10⁶ m³",
    "",
    "检测性能 (奈曼-皮尔逊):",
    "  • PFA=10⁻⁶, PD=90% → SNR≈21 dB",
    "  • 100个脉冲相干积累 → +20 dB",
    "━" * 42,
]
bx0, bx1, by0, by1 = 1906 / W, 2404 / W, 1 - 3602 / H, 1 - 2816 / H
rx, ry = 14 / W, 14 / H
box_path = (f"M {bx0 + rx},{by1} L {bx1 - rx},{by1} Q {bx1},{by1} {bx1},{by1 - ry} "
            f"L {bx1},{by0 + ry} Q {bx1},{by0} {bx1 - rx},{by0} L {bx0 + rx},{by0} "
            f"Q {bx0},{by0} {bx0},{by0 + ry} L {bx0},{by1 - ry} Q {bx0},{by1} {bx0 + rx},{by1} Z")
shapes.append(dict(type="path", xref="paper", yref="paper", path=box_path, fillcolor="#f9efdf",
                   line=dict(color="#a8a8a8", width=2), layer="above"))
line_pitch = 22.6
for i, line in enumerate(box_lines):
    if not line:
        continue
    notes.append(dict(x=1918 / W, y=1 - (2858 + i * line_pitch) / H, xref="paper", yref="paper",
                      xanchor="left", yanchor="middle", align="left", showarrow=False,
                      text=line.replace(" ", "\u00a0"),
                      font=dict(family=MONO, size=19, color="black")))

# 总标题与水印
notes.append(dict(x=0.5, y=1 - 32 / H, xref="paper", yref="paper", showarrow=False, yanchor="middle",
                  text="雷达系统理论仿真全章节可视化", font=dict(family=CJK, size=33, color="black")))
notes.append(dict(x=2655 / W, y=1 - 3570 / H, xref="paper", yref="paper", showarrow=False,
                  xanchor="right", yanchor="middle", text="CSDN @VectorShift",
                  font=dict(family="Liberation Sans, Arial, sans-serif", size=46, color="rgba(150,150,150,0.45)")))


def leg(x, y, xa, ya):
    return dict(x=x / W, y=1 - y / H, xanchor=xa, yanchor=ya, xref="paper", yref="paper",
                bgcolor="rgba(255,255,255,0.85)", bordercolor="#cccccc", borderwidth=1.5,
                font=dict(family=CJK, size=15, color=INK), itemwidth=30, tracegroupgap=2)


fig.update_layout(
    width=W, height=H, margin=dict(l=0, r=0, t=0, b=0),
    paper_bgcolor="white", plot_bgcolor="white",
    font=dict(family=CJK, color=INK),
    annotations=notes, shapes=shapes,
    legend=leg(2171, 385, "left", "top"),
    legend2=leg(1385, 1607, "center", "bottom"),
    legend3=leg(2650, 1342, "right", "top"),
    legend4=leg(110, 2188, "left", "bottom"),
    legend5=leg(2650, 1923, "right", "top"),
    legend6=leg(873, 2770, "right", "bottom"),
    legend7=leg(1767, 2770, "right", "bottom"),
    legend8=leg(110, 3087, "left", "top"),
    **axes,
)

fig.write_html("out.html")
